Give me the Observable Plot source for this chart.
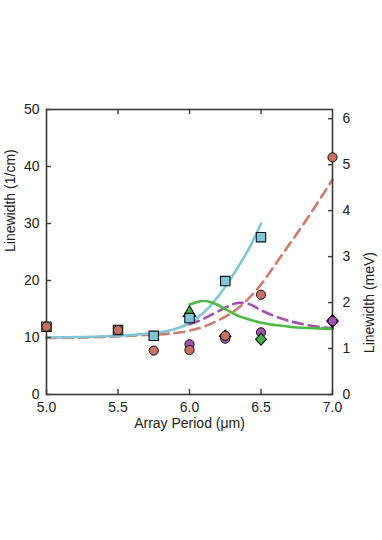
<!DOCTYPE html>
<html>
<head>
<meta charset="utf-8">
<script src="https://cdn.jsdelivr.net/npm/d3@7"></script>
<script src="https://cdn.jsdelivr.net/npm/@observablehq/plot@0.6"></script>
<style>
  html, body { margin: 0; padding: 0; background: #fff; }
  #chart svg { display: block; }
</style>
</head>
<body>
<div id="chart"></div>
<script>
// ---- tick labels ----
const xTicks = [5.0, 5.5, 6.0, 6.5, 7.0];
const yTicks = [0, 10, 20, 30, 40, 50];
const meVTicks = [0, 1, 2, 3, 4, 5, 6];
const CM_PER_MEV = 8.0655;

// ---- measured points ----
const redCircleX = [5.0, 5.5, 5.75, 6.0, 6.25, 6.5, 7.0];
const redCircleY = [11.9, 11.3, 7.7, 7.8, 10.3, 17.5, 41.6];
const purpleCircleX = [6.0, 6.25, 6.5, 7.0];
const purpleCircleY = [8.8, 9.8, 10.9, 12.9];
const blueSquareX = [5.0, 5.5, 5.75, 6.0, 6.25, 6.5];
const blueSquareY = [11.9, 11.3, 10.3, 13.4, 19.9, 27.6];
const greenTriangleX = [6.0];
const greenTriangleY = [14.3];
const greenDiamondX = [6.5];
const greenDiamondY = [9.7];
const purpleDiamondX = [6.25, 7.0];
const purpleDiamondY = [10.2, 12.9];

// ---- model curves ----
const blueCurveX = [5.0, 5.25, 5.5, 5.75, 5.9, 6.0, 6.05, 6.1, 6.15, 6.2, 6.25, 6.3, 6.35, 6.4, 6.45, 6.5];
const blueCurveY = [10.0, 10.1, 10.3, 10.8, 11.5, 12.5, 13.3, 14.4, 15.7, 17.2, 18.9, 20.8, 22.8, 24.9, 27.3, 30.0];
const redCurveX = [5.0, 5.25, 5.5, 5.75, 5.9, 6.0, 6.1, 6.2, 6.3, 6.4, 6.5, 6.6, 6.7, 6.8, 6.9, 7.0];
const redCurveY = [9.9, 10.0, 10.2, 10.5, 10.8, 11.2, 11.9, 13.0, 14.4, 16.5, 19.3, 22.8, 26.4, 30.0, 33.8, 37.7];
const greenCurveX = [6.0, 6.05, 6.1, 6.15, 6.2, 6.25, 6.3, 6.35, 6.4, 6.5, 6.6, 6.7, 6.8, 6.9, 7.0];
const greenCurveY = [15.8, 16.2, 16.4, 16.2, 15.7, 15.0, 14.3, 13.7, 13.3, 12.6, 12.2, 11.9, 11.7, 11.6, 11.5];
const purpleCurveX = [6.0, 6.1, 6.2, 6.3, 6.35, 6.4, 6.45, 6.5, 6.6, 6.7, 6.8, 6.9, 7.0];
const purpleCurveY = [12.3, 13.3, 14.6, 15.8, 16.1, 16.0, 15.5, 14.8, 13.7, 12.9, 12.3, 11.9, 11.6];

const xLabel = "Array Period (\u03bcm)";
const yLeftLabel = "Linewidth (1/cm)";
const yRightLabel = "Linewidth (meV)";

const pts = (xs, ys) => xs.map((x, i) => ({x, y: ys[i]}));

const RED = "#c8705f", RED_LINE = "#d07b6c";
const BLUE = "#7ec6d8";
const GREEN = "#3fb648", GREEN_LINE = "#4cbb44";
const PURPLE = "#a24fb0";
const AXIS = "#3a3a3a";
const FONT = "Liberation Sans, Arial, Helvetica, sans-serif";

const diamond = {
  draw(context, size) {
    const h = Math.sqrt(size / Math.PI) * 1.25;
    const w = h * 0.9;
    context.moveTo(0, -h);
    context.lineTo(w, 0);
    context.lineTo(0, h);
    context.lineTo(-w, 0);
    context.closePath();
  }
};

const W = 382, H = 540;
const mL = 46, mR = 50, mT = 109, mB = 146;
const innerH = H - mT - mB;

const chart = Plot.plot({
  width: W,
  height: H,
  marginLeft: mL,
  marginRight: mR,
  marginTop: mT,
  marginBottom: mB,
  style: {fontFamily: FONT, fontSize: "14px", color: "#222", background: "#fff"},
  x: {domain: [5.0, 7.0]},
  y: {domain: [0, 50]},
  marks: [
    // curves
    Plot.line(pts(redCurveX, redCurveY), {x: "x", y: "y", stroke: RED_LINE, strokeWidth: 2.6, strokeDasharray: "10,6", curve: "natural"}),
    Plot.line(pts(blueCurveX, blueCurveY), {x: "x", y: "y", stroke: BLUE, strokeWidth: 2.6, curve: "natural"}),
    Plot.line(pts(purpleCurveX, purpleCurveY), {x: "x", y: "y", stroke: PURPLE, strokeWidth: 2.6, strokeDasharray: "10,6", curve: "natural"}),
    Plot.line(pts(greenCurveX, greenCurveY), {x: "x", y: "y", stroke: GREEN_LINE, strokeWidth: 2.6, curve: "natural"}),
    // frame
    Plot.frame({stroke: AXIS, strokeWidth: 1.6}),
    // axes with inward ticks
    Plot.axisX({anchor: "bottom", ticks: xTicks, tickFormat: d3.format(".1f"), tickSize: 5, dy: -5, tickPadding: 8, stroke: AXIS, strokeWidth: 1.4, fontSize: 14, label: null}),
    Plot.axisY({anchor: "left", ticks: yTicks, tickFormat: d3.format("d"), tickSize: 5, dx: 5, tickPadding: 7, stroke: AXIS, strokeWidth: 1.4, fontSize: 14, label: null}),
    Plot.axisY({anchor: "right", ticks: meVTicks.map(m => m * CM_PER_MEV), tickFormat: v => String(Math.round(v / CM_PER_MEV)), tickSize: 5, dx: -5, tickPadding: 10, stroke: AXIS, strokeWidth: 1.4, fontSize: 14, label: null}),
    Plot.ruleX(xTicks.slice(1, -1), {x: d => d, insetBottom: innerH - 5, stroke: AXIS, strokeWidth: 1.4}),
    // axis titles
    Plot.text([yLeftLabel], {text: d => d, frameAnchor: "left", dx: -36, rotate: -90, fontSize: 14, fill: "#222"}),
    Plot.text([yRightLabel], {text: d => d, frameAnchor: "right", dx: 37, rotate: -90, fontSize: 14, fill: "#222"}),
    Plot.text([xLabel], {text: d => d, frameAnchor: "bottom", dy: 33, fontSize: 14, fill: "#222"}),
    // markers
    Plot.dot(pts(greenTriangleX, greenTriangleY), {x: "x", y: "y", symbol: "triangle", r: 4.6, fill: GREEN, stroke: "#111", strokeWidth: 1.1}),
    Plot.dot(pts(blueSquareX, blueSquareY), {x: "x", y: "y", symbol: "square", r: 5.3, fill: BLUE, stroke: "#111", strokeWidth: 1.1}),
    Plot.dot(pts(purpleDiamondX, purpleDiamondY), {x: "x", y: "y", symbol: diamond, r: 5, fill: PURPLE, stroke: "#111", strokeWidth: 1.3}),
    Plot.dot(pts(purpleCircleX, purpleCircleY), {x: "x", y: "y", r: 4.6, fill: PURPLE, stroke: "#111", strokeWidth: 1}),
    Plot.dot(pts(redCircleX, redCircleY), {x: "x", y: "y", r: 4.6, fill: RED, stroke: "#111", strokeWidth: 1}),
    Plot.dot(pts(greenDiamondX, greenDiamondY), {x: "x", y: "y", symbol: diamond, r: 4.8, fill: GREEN, stroke: "#111", strokeWidth: 1.1})
  ]
});
document.getElementById("chart").appendChild(chart);
</script>
</body>
</html>
